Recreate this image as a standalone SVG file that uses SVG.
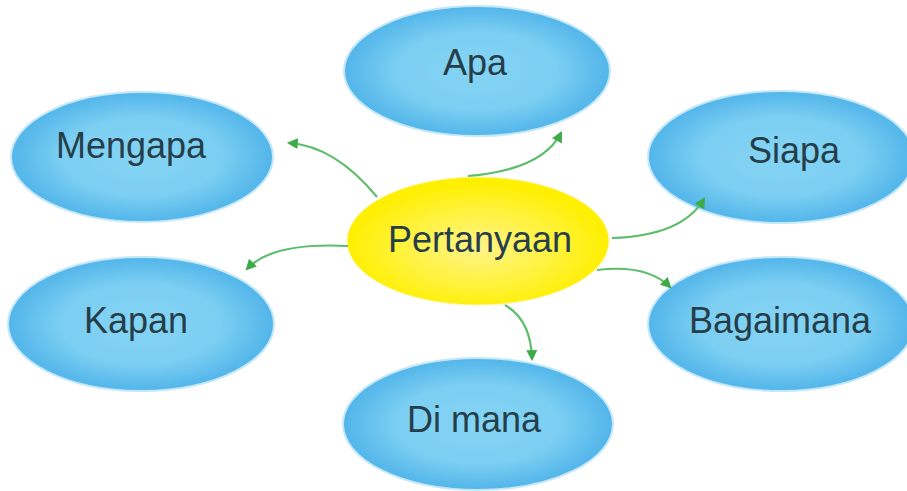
<svg xmlns="http://www.w3.org/2000/svg" width="907" height="491" viewBox="0 0 907 491">
  <defs>
    <radialGradient id="blueFill" cx="50%" cy="50%" r="50%">
      <stop offset="0" stop-color="#84d3f3"/>
      <stop offset="0.6" stop-color="#7ccff2"/>
      <stop offset="1" stop-color="#52b5ea"/>
    </radialGradient>
    <radialGradient id="yellowFill" cx="50%" cy="55%" r="50%">
      <stop offset="0" stop-color="#fff38a"/>
      <stop offset="0.6" stop-color="#fff23a"/>
      <stop offset="1" stop-color="#ffef00"/>
    </radialGradient>
    <marker id="arrow" viewBox="0 0 10 10" refX="8" refY="5" markerWidth="5" markerHeight="5" orient="auto" markerUnits="strokeWidth">
      <path d="M0,0 L10,5 L0,10 z" fill="#3eaa48"/>
    </marker>
  </defs>
  <style>
    .leaf ellipse { fill: url(#blueFill); stroke: #c4e8f8; stroke-width: 2; }
    .hub ellipse { fill: url(#yellowFill); stroke: #fff6a0; stroke-width: 1; }
    text { font-family: "Liberation Sans", Arial, sans-serif; font-size: 36px; fill: #263e49; text-anchor: middle; }
    .link { fill: none; stroke: #5cbd6b; stroke-width: 2.2; marker-end: url(#arrow); }
  </style>
  <rect width="907" height="491" fill="#ffffff"/>

  <g id="node-apa" class="leaf">
    <ellipse cx="477" cy="71" rx="133" ry="65"/>
    <text x="475" y="75">Apa</text>
  </g>
  <g id="node-mengapa" class="leaf">
    <ellipse cx="142" cy="157" rx="131" ry="65"/>
    <text x="131" y="158">Mengapa</text>
  </g>
  <g id="node-siapa" class="leaf">
    <ellipse cx="781" cy="157" rx="133" ry="66"/>
    <text x="794" y="163">Siapa</text>
  </g>
  <g id="node-kapan" class="leaf">
    <ellipse cx="141" cy="324" rx="133" ry="67"/>
    <text x="136" y="333">Kapan</text>
  </g>
  <g id="node-bagaimana" class="leaf">
    <ellipse cx="781" cy="324" rx="133" ry="67"/>
    <text x="780" y="333">Bagaimana</text>
  </g>
  <g id="node-dimana" class="leaf">
    <ellipse cx="478" cy="424" rx="135" ry="66"/>
    <text x="474" y="432">Di mana</text>
  </g>
  <g id="node-pertanyaan" class="hub">
    <ellipse cx="478" cy="241" rx="131" ry="64"/>
    <text x="480" y="252">Pertanyaan</text>
  </g>

  <!-- curved green links from the hub to each question word -->
  <g id="connectors">
    <path class="link" d="M377,197 Q335,146 289,143"/>
    <path class="link" d="M348,246 Q272,242 247,269"/>
    <path class="link" d="M468,176 Q542,170 561,133"/>
    <path class="link" d="M612,238 Q682,236 704,199"/>
    <path class="link" d="M597,270 Q647,264 670,287"/>
    <path class="link" d="M505,305 Q531,320 532,359"/>
  </g>
</svg>
